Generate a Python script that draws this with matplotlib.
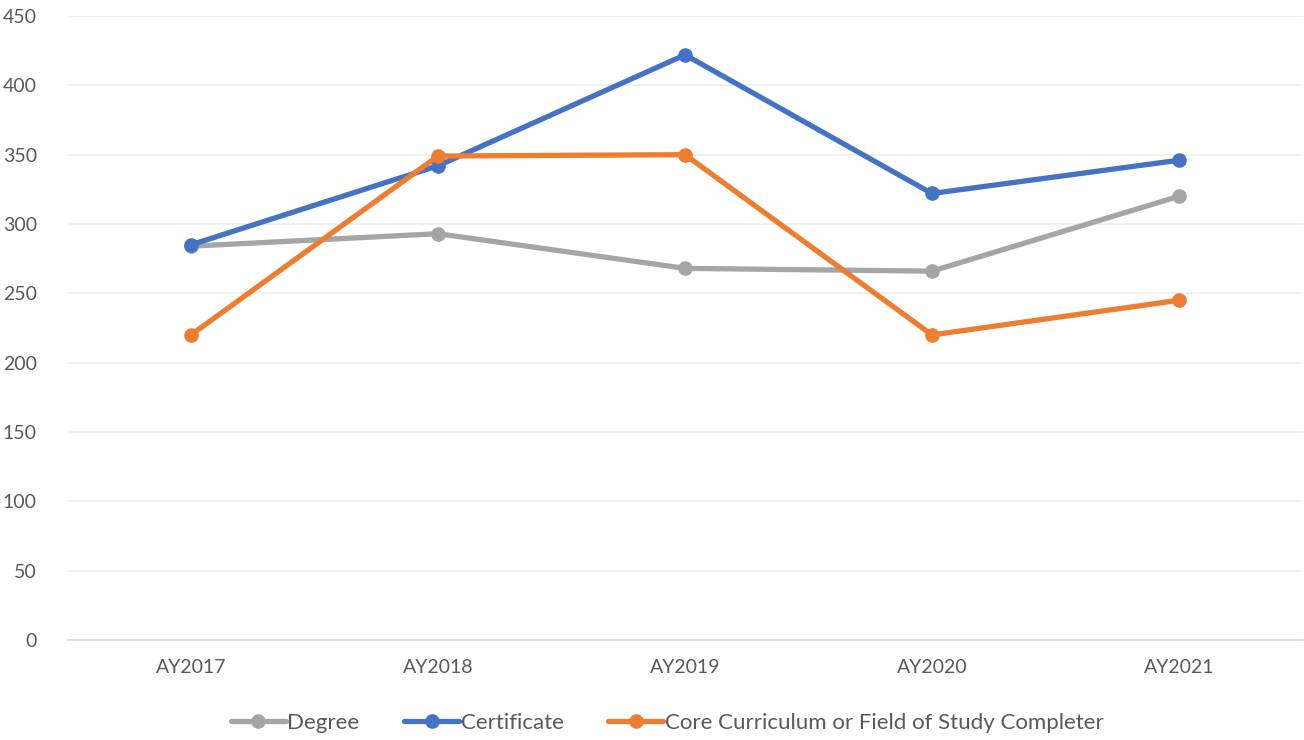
import matplotlib
matplotlib.use("Agg")
import matplotlib.pyplot as plt

categories = ["AY2017", "AY2018", "AY2019", "AY2020", "AY2021"]
degree = [284, 293, 268, 266, 320]
certificate = [285, 342, 422, 322, 346]
core = [220, 349, 350, 220, 245]
series_names = ["Degree", "Certificate", "Core Curriculum or Field of Study Completer"]
yticks = [0, 50, 100, 150, 200, 250, 300, 350, 400, 450]

plt.rcParams['font.family'] = ['Lato', 'DejaVu Sans']

fig = plt.figure(figsize=(13.04, 7.4), dpi=100)
ax = fig.add_axes([67.5/1304, 1-640/740, 1235/1304, 624/740])

x = list(range(len(categories)))
colors = ["#A5A5A5", "#4472C4", "#ED7D31"]
for vals, name, c in zip([degree, certificate, core], series_names, colors):
    ax.plot(x, vals, color=c, lw=3.8, marker='o', markersize=9.5, label=name,
            solid_capstyle='round', solid_joinstyle='round')

ax.set_xlim(-0.5, 4.5)
ax.set_ylim(0, 450)
ax.set_yticks(yticks)
ax.set_xticks(x)
ax.set_xticklabels(categories)
ax.grid(axis='y', color='#EDEDED', lw=1.2)
ax.set_axisbelow(True)
for s in ['top', 'right', 'left']:
    ax.spines[s].set_visible(False)
ax.spines['bottom'].set_color('#D9D9D9')
ax.spines['bottom'].set_linewidth(1.2)
ax.tick_params(axis='both', length=0, labelsize=14, colors='#595959')
ax.tick_params(axis='y', pad=22)
ax.tick_params(axis='x', pad=14)

leg = fig.legend(loc='center', bbox_to_anchor=(0.5 + 15/1304, 1-723/740), ncol=3, frameon=False,
                 fontsize=16, handlelength=2.5, handletextpad=0.05, columnspacing=2.0,
                 labelcolor='#595959')

fig.savefig("out.png", dpi=100)
